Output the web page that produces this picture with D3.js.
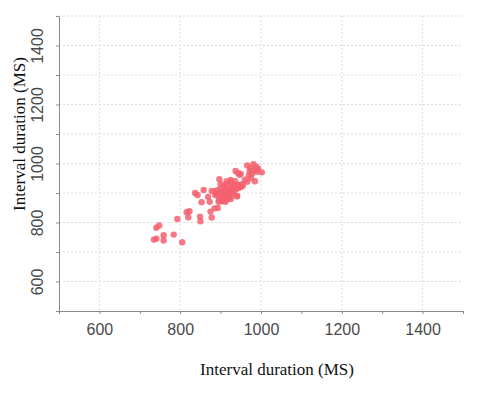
<!DOCTYPE html>
<html>
<head>
<meta charset="utf-8">
<script src="https://cdn.jsdelivr.net/npm/d3@7"></script>
<style>
  body { margin: 0; background: #fff; }
  .grid line { stroke: #dedede; stroke-dasharray: 2,2; }
  .axis path, .axis line { stroke: #8a8a8a; }
  .axis text { font-family: "Liberation Sans", Arial, sans-serif; font-size: 16px; fill: #4a4a4a; }
  .title { font-family: "Liberation Serif", "Times New Roman", serif; font-size: 17px; fill: #111; }
</style>
</head>
<body>
<div id="chart"></div>
<script>
// interval durations (ms)
var xVals = [735,741,741,748,759,759,784,805,793,816,823,820,849,850,878,875,885,893,853,837,843,858,869,873,878,885,
  890,893,896,898,900,902,905,906,908,910,912,913,915,916,918,920,922,924,926,928,930,932,934,936,938,940,942,945,948,950,952,955,
  897,925,941,887,895,903,908,915,920,925,912,918,900,930,
  937,943,947,950,966,974,981,985,993,1002,985,966,970,975,978,990,960,988,972];
var yVals = [742,745,782,790,757,739,759,733,812,835,838,818,820,804,817,837,848,849,869,900,893,910,887,870,907,905,
  895,910,880,900,888,915,875,895,905,885,920,898,878,930,892,910,885,900,938,918,895,905,925,940,912,890,928,918,922,920,930,925,
  947,944,889,893,870,872,925,940,895,880,870,905,930,925,
  975,968,962,965,993,985,998,977,982,970,940,938,960,950,965,972,945,990,975];
var xTicks = [600, 800, 1000, 1200, 1400];
var yTicks = [600, 800, 1000, 1200, 1400];
var gridStep = [500,600,700,800,900,1000,1100,1200,1300,1400,1500];

var margin = {top: 16, right: 27, bottom: 83, left: 59},
    width = 490 - margin.left - margin.right,
    height = 394 - margin.top - margin.bottom;

var svg = d3.select("#chart").append("svg")
    .attr("width", 490)
    .attr("height", 394)
  .append("g")
    .attr("transform", "translate(" + margin.left + "," + margin.top + ")");

var x = d3.scaleLinear().domain([500, 1500]).range([0, width]);
var y = d3.scaleLinear().domain([500, 1500]).range([height, 0]);

// dotted grid
svg.append("g").attr("class", "grid")
  .selectAll("line").data(gridStep.filter(function(d){ return d > 500; }))
  .enter().append("line")
  .attr("x1", 0).attr("x2", width)
  .attr("y1", function(d){ return y(d); }).attr("y2", function(d){ return y(d); });
svg.append("g").attr("class", "grid")
  .selectAll("line").data(xTicks)
  .enter().append("line")
  .attr("y1", 0).attr("y2", height)
  .attr("x1", function(d){ return x(d); }).attr("x2", function(d){ return x(d); });

// axes
var xAxis = svg.append("g").attr("class", "axis")
  .attr("transform", "translate(0," + height + ")")
  .call(d3.axisBottom(x).tickValues(gridStep).tickSize(3).tickSizeOuter(0)
    .tickFormat(function(d){ return xTicks.indexOf(d) >= 0 ? d : ""; }));
xAxis.selectAll("text").attr("dy", "1.1em");

var yAxis = svg.append("g").attr("class", "axis")
  .call(d3.axisLeft(y).tickValues(gridStep).tickSize(3).tickSizeOuter(0)
    .tickFormat(function(d){ return yTicks.indexOf(d) >= 0 ? d : ""; }));
yAxis.selectAll("text")
  .attr("transform", "rotate(-90)")
  .attr("x", 0).attr("y", -16)
  .attr("dy", "0")
  .style("text-anchor", "middle");

// points
var points = xVals.map(function(v, i){ return {x: v, y: yVals[i]}; });
svg.append("g").selectAll("circle").data(points)
  .enter().append("circle")
  .attr("cx", function(d){ return x(d.x); })
  .attr("cy", function(d){ return y(d.y); })
  .attr("r", 3.2)
  .attr("fill", "#f4606f")
  .attr("fill-opacity", 0.85);

// titles
svg.append("text").attr("class", "title")
  .attr("x", 277 - margin.left).attr("y", 375 - margin.top)
  .attr("text-anchor", "middle")
  .text("Interval duration (MS)");
svg.append("text").attr("class", "title")
  .attr("transform", "translate(" + (25 - margin.left) + "," + (134 - margin.top) + ") rotate(-90)")
  .attr("text-anchor", "middle")
  .text("Interval duration (MS)");
</script>
</body>
</html>
